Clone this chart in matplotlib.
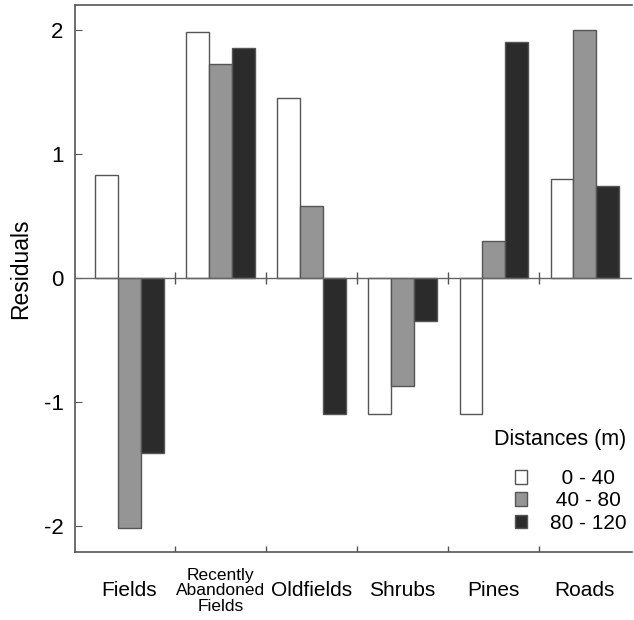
import numpy as np
import matplotlib.pyplot as plt

plt.rcParams['font.family'] = ['Liberation Sans', 'DejaVu Sans']

habitats = ["Fields", "Recently\nAbandoned\nFields", "Oldfields", "Shrubs", "Pines", "Roads"]
distances = ["0 - 40", "40 - 80", "80 - 120"]
res_0_40 = [0.83, 1.98, 1.45, -1.10, -1.10, 0.80]
res_40_80 = [-2.02, 1.72, 0.58, -0.87, 0.30, 2.00]
res_80_120 = [-1.41, 1.85, -1.10, -0.35, 1.90, 0.74]
colors = ["white", "#959595", "#2b2b2b"]

fig = plt.figure(figsize=(6.34, 6.2), dpi=100)
ax = fig.add_axes([0.118, 0.11, 0.879, 0.882])

x = np.arange(len(habitats))
w = 0.25
# pad the shorter labels so they look centred like the original legend
pads = ["  ", " ", ""]
for i, (vals, c, lab) in enumerate(zip([res_0_40, res_40_80, res_80_120], colors, distances)):
    ax.bar(x + (i - 1) * w, vals, w, color=c, edgecolor="#555555", linewidth=1,
           label=pads[i] + lab, zorder=2)

ax.axhline(0, color="#666666", lw=1, zorder=3)
bounds = x[:-1] + 0.5
ax.vlines(bounds, -0.05, 0.05, color="#555555", lw=1, zorder=3)
ax.vlines(bounds, -2.21, -2.16, color="#555555", lw=1, zorder=3)

ax.set_xlim(-0.6, 5.52)
ax.set_ylim(-2.21, 2.2)
ax.set_yticks([-2, -1, 0, 1, 2])
ax.set_yticklabels(["-2", "-1", "0", "1", "2"])
ax.tick_params(axis="y", direction="in", length=5, labelsize=16, color="#555555", pad=8)
ax.set_xticks(x)
ax.set_xticklabels(habitats)
ax.tick_params(axis="x", length=0, pad=28)
for t, lab in zip(ax.get_xticklabels(), habitats):
    t.set_va("center")
    if "\n" in lab:
        t.set_fontsize(12.5)
        t.set_linespacing(1.05)
    else:
        t.set_fontsize(15)

ax.set_ylabel("Residuals", fontsize=16.5)
ax.yaxis.set_label_coords(-0.076, 0.517)
ax.spines["right"].set_visible(False)
for s in ["left", "top", "bottom"]:
    ax.spines[s].set_color("#555555")
    ax.spines[s].set_linewidth(1.2)

leg = ax.legend(title="Distances (m)", loc="lower right", frameon=False, fontsize=15,
                title_fontsize=15.5, handlelength=0.6, handleheight=0.6, handletextpad=1.1,
                labelspacing=0.15, borderaxespad=0.2, borderpad=0.2, alignment="right",
                bbox_to_anchor=(1.005, 0.02))
leg._legend_box.sep = 14  # more room under the title

fig.savefig("out.png", dpi=100)
